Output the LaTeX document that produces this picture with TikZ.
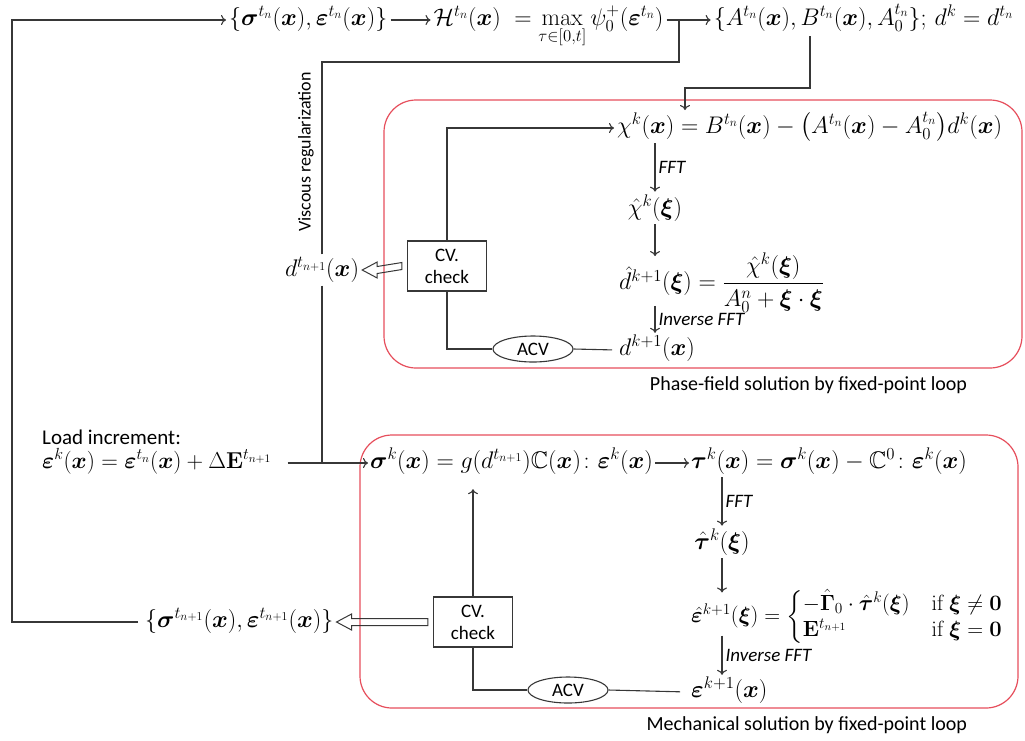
\RequirePackage{fix-cm}
\documentclass[tikz,border=0pt]{standalone}
\usepackage{amsmath,amssymb,bm}
\usepackage[no-math]{fontspec}
\setmainfont{Carlito}
\usetikzlibrary{arrows.meta,positioning,shapes.geometric,calc}
\definecolor{loopred}{RGB}{230,78,92}
\definecolor{wire}{RGB}{55,55,55}

\newcommand{\eqsize}{\fontsize{24}{28}\selectfont}
% outlined (hollow) arrow from the left side of #1 to #2
\newcommand{\hollowarrow}[2]{%
  \draw[hollow] ($(#1)+(-5,-3.5)$) -- ($(#2)+(15,-3.5)$) -- ($(#2)+(15,-8)$) -- (#2)
    -- ($(#2)+(15,8)$) -- ($(#2)+(15,3.5)$) -- ($(#1)+(-5,3.5)$) -- cycle;}

\begin{document}
\begin{tikzpicture}[
    x=1pt, y=-1pt,
    font=\fontsize{21}{25}\selectfont,
    >={To[length=5pt,width=10pt]},
    % Define styles
    eq/.style={anchor=west, font=\eqsize, text height=17pt, text depth=7pt, inner sep=3pt},
    mathnode/.style={font=\eqsize, inner sep=3pt},
    cvbox/.style={rectangle, draw=wire, line width=1.1pt, align=center, minimum width=79pt, minimum height=50pt, inner sep=2pt, font=\fontsize{19}{22}\selectfont},
    acv/.style={ellipse, draw=wire, line width=1.1pt, minimum width=80pt, minimum height=26pt, inner sep=0pt, font=\fontsize{19}{22}\selectfont},
    arrow/.style={->, draw=wire, line width=1.1pt},
    link/.style={draw=wire, line width=1.1pt},
    hollow/.style={draw=wire, line width=1pt},
    panel/.style={rectangle, draw=loopred, line width=1.2pt, rounded corners=32pt},
    panlbl/.style={font=\fontsize{20}{24}\selectfont},
    steplbl/.style={right, inner sep=3pt, font=\fontsize{19}{22}\selectfont\itshape}
]
\useasboundingbox (0,0) rectangle (1025,740);

% ==========================================
% Top row: history field and phase-field data
% ==========================================
\node[eq] (oldstate) at (226,20) {$\{\bm\sigma^{t_n}(\bm x),\bm\varepsilon^{t_n}(\bm x)\}$};
\node[eq, right=40pt of oldstate] (history) {$\mathcal{H}^{t_n}(\bm x)\;=\max\limits_{\tau\in[0,t]}\psi_0^{+}(\bm\varepsilon^{t_n})$};
\node[eq, right=44pt of history] (params) {$\{A^{t_n}(\bm x),B^{t_n}(\bm x),A_0^{t_n}\};\,d^k=d^{t_n}$};

\draw[arrow] (oldstate) -- (history);
\draw[arrow] (history) -- (params);
\coordinate (viscjoin) at ($(history.east)!0.28!(params.west)$);

% ==========================================
% Phase-field solution
% ==========================================
\node[panel, minimum width=638pt, minimum height=268pt] (phasepanel) at (703,234) {};
\node[panlbl, anchor=north east] at ([xshift=-52pt,yshift=-4pt]phasepanel.south east) {Phase-field solution by fixed-point loop};

\node[eq] (chieq) at (614,128) {$\chi^k(\bm x)=B^{t_n}(\bm x)-\big(A^{t_n}(\bm x)-A_0^{t_n}\big)d^k(\bm x)$};
\node[mathnode] (chihat) at (655,208) {$\hat\chi^k(\bm\xi)$};
\node[mathnode, anchor=west] (dhateq) at (616,283) {$\hat d^{k+1}(\bm\xi)=\dfrac{\hat\chi^k(\bm\xi)}{A_0^n+\bm\xi\cdot\bm\xi}$};
\node[eq] (dnew) at (616,350) {$d^{k+1}(\bm x)$};
\node[cvbox] (cv1) at (447,266) {CV.\\check};
\node[acv] (acv1) at (533,349) {ACV};

\coordinate (bdrop) at (810,36);
\coordinate (chiin) at (685,110);
\draw[arrow] (bdrop) |- ($(chiin)+(0,-22)$) -- (chiin);

\draw[arrow] (cv1.north) |- (chieq.west);
\draw[arrow] (chihat.north |- chieq.south) -- node[steplbl] {FFT} (chihat.north);
\draw[arrow] (chihat.south) -- ([yshift=-6pt]chihat.south |- dhateq.north);
\draw[arrow] ([yshift=10pt]dhateq.south -| chihat.south) -- node[steplbl] {Inverse FFT} ([yshift=2pt]dnew.north -| chihat.south);
\draw[link] (cv1.south) |- (acv1.west);
\draw[link, shorten >=4pt] (acv1.east) -- (dnew.west);

% converged damage and viscous regularization
\node[mathnode] (dnext) at (322,270) {$d^{t_{n+1}}(\bm x)$};
\node[rotate=90, font=\fontsize{18}{22}\selectfont] (visclbl) at (306,152) {Viscous regularization};
\hollowarrow{cv1.west}{dnext.east}
\draw[link] (dnext.north) |- ($(viscjoin)+(0,42)$) -- (viscjoin);

% ==========================================
% Load increment
% ==========================================
\node[anchor=west, inner sep=2pt] (loadlbl) at (40,437) {Load increment:};
\node[eq, font=\fontsize{23}{27}\selectfont, inner sep=2pt] (loadeq) at (40,463) {$\bm\varepsilon^k(\bm x)=\bm\varepsilon^{t_n}(\bm x)+\Delta\mathbf{E}^{t_{n+1}}$};

% ==========================================
% Mechanical solution
% ==========================================
\node[panel, minimum width=658pt, minimum height=273pt] (mechpanel) at (689,571.5) {};
\node[panlbl, anchor=north east] at ([xshift=-48pt,yshift=-4pt]mechpanel.south east) {Mechanical solution by fixed-point loop};

\node[eq, inner sep=2pt] (sigmaeq) at (368,463) {$\bm\sigma^k(\bm x)=g(d^{t_{n+1}})\mathbb{C}(\bm x)\colon\bm\varepsilon^k(\bm x)$};
\node[eq, inner sep=2pt, right=34pt of sigmaeq] (taueq) {$\bm\tau^k(\bm x)=\bm\sigma^k(\bm x)-\mathbb{C}^0\colon\bm\varepsilon^k(\bm x)$};
\node[mathnode] (tauhat) at (722,542) {$\hat{\bm\tau}^k(\bm\xi)$};
\node[mathnode, font=\fontsize{22}{26}\selectfont, anchor=west] (epseq) at (688,617) {$\hat{\bm\varepsilon}^{k+1}(\bm\xi)=\left\{\begin{array}{@{}l@{\quad}l@{}}-\hat{\bm\Gamma}_0\cdot\hat{\bm\tau}^k(\bm\xi) & \mathrm{if}\ \bm\xi\neq\bm 0\\ \mathbf{E}^{t_{n+1}} & \mathrm{if}\ \bm\xi=\bm 0\end{array}\right.$};
\node[eq] (epsnew) at (688,692) {$\bm\varepsilon^{k+1}(\bm x)$};
\node[cvbox] (cv2) at (473,622) {CV.\\check};
\node[acv] (acv2) at (568,690) {ACV};
\node[eq] (newstate) at (142,622) {$\{\bm\sigma^{t_{n+1}}(\bm x),\bm\varepsilon^{t_{n+1}}(\bm x)\}$};

\draw[arrow] (loadeq.east) ++(14,0) -- (sigmaeq.west);
\draw[link] (dnext.south) -- (dnext.south |- loadeq.east);
\draw[arrow] (sigmaeq) -- (taueq);
\draw[arrow] (tauhat.north |- taueq.south) -- node[steplbl] {FFT} (tauhat.north);
\draw[arrow] (tauhat.south) -- ([yshift=-6pt]tauhat.south |- epseq.north);
\draw[arrow] ([yshift=12pt]epseq.south -| tauhat.south) -- node[steplbl] {Inverse FFT} ([yshift=2pt]epsnew.north -| tauhat.south);
\draw[arrow, shorten >=12pt] (cv2.north) -- (cv2.north |- sigmaeq.south);
\draw[link] (cv2.south) |- (acv2.west);
\draw[link, shorten >=8pt] (acv2.east) -- (epsnew.west);
\hollowarrow{cv2.west}{newstate.east}

% converged state back to the top
\coordinate (rail) at (12,20);
\draw[arrow] ([xshift=-4pt]newstate.west) -| (rail) -- (oldstate.west);

\end{tikzpicture}
\end{document}
